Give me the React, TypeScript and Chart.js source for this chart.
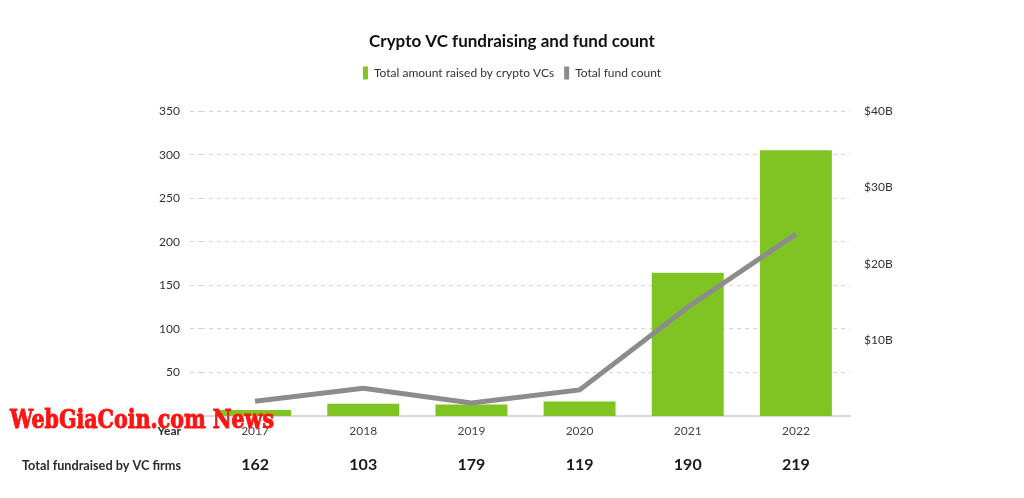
import React, { useEffect, useRef } from "react";
import { Chart, registerables } from "chart.js";

Chart.register(...registerables);

const years = ["2017", "2018", "2019", "2020", "2021", "2022"];
const amountRaisedB = [0.8, 1.6, 1.5, 1.9, 18.8, 34.9];
const fundCount = [17, 32, 15, 30, 125, 209];
const fundraisedByVcFirms = [162, 103, 179, 119, 190, 219];
const leftTicksMax = 350;
const rightTicksMax = 40;

const FONT = "Lato";
const GREEN = "#80c423";
const GRAY = "#8c8c8c";

const legendSpacer = {
  id: "legendSpacer",
  beforeInit(chart: any) {
    const legend = chart.legend;
    if (!legend) return;
    const orig = legend.fit;
    legend.fit = function () {
      orig.call(this);
      this.height += 22;
    };
  },
};

const tableRowsPlugin = {
  id: "tableRows",
  afterDraw(chart: any) {
    const ctx = chart.ctx;
    const xScale = chart.scales.x;
    ctx.save();
    ctx.fillStyle = "#2b2b2b";
    ctx.textBaseline = "middle";
    ctx.textAlign = "right";
    ctx.font = `bold 12px ${FONT}`;
    ctx.fillText("Year", 181, 431);
    ctx.font = `bold 12.7px ${FONT}`;
    ctx.fillText("Total fundraised by VC firms", 181, 466);
    ctx.textAlign = "center";
    ctx.font = `bold 16px ${FONT}`;
    ctx.fillStyle = "#1a1a1a";
    fundraisedByVcFirms.forEach((v, i) => {
      ctx.fillText(String(v), xScale.getPixelForValue(i), 465);
    });
    // watermark
    ctx.font = `bold 26px "DejaVu Serif"`;
    ctx.fillStyle = "#ff1414";
    ctx.strokeStyle = "#ff1414";
    ctx.lineWidth = 1;
    ctx.textAlign = "left";
    ctx.textBaseline = "alphabetic";
    const text = "WebGiaCoin.com News";
    const w = ctx.measureText(text).width;
    ctx.translate(10, 428);
    ctx.scale(264 / w, 1);
    ctx.fillText(text, 0, 0);
    ctx.strokeText(text, 0, 0);
    ctx.restore();
  },
};

export default function App() {
  const ref = useRef<HTMLCanvasElement>(null);
  useEffect(() => {
    if (!ref.current) return;
    const chart = new Chart(ref.current, {
      type: "bar",
      data: {
        labels: years,
        datasets: [
          {
            type: "bar",
            label: "Total amount raised by crypto VCs",
            data: amountRaisedB,
            backgroundColor: GREEN,
            borderWidth: 0,
            yAxisID: "y1",
            barPercentage: 0.665,
            categoryPercentage: 1,
            order: 1,
          },
          {
            type: "line",
            label: "Total fund count",
            data: fundCount,
            borderColor: GRAY,
            backgroundColor: GRAY,
            borderWidth: 5,
            pointRadius: 0,
            tension: 0,
            yAxisID: "y",
            order: 0,
          } as any,
        ],
      },
      options: {
        responsive: false,
        animation: false,
        layout: { padding: { left: 0, right: 0, top: 0, bottom: 0 } },
        plugins: {
          title: {
            display: true,
            text: "Crypto VC fundraising and fund count",
            color: "#111",
            font: { family: FONT, size: 17, weight: "bold" },
            padding: { top: 31, bottom: 5 },
          },
          legend: {
            display: true,
            labels: {
              boxWidth: 5,
              boxHeight: 13,
              padding: 10,
              color: "#333",
              font: { family: FONT, size: 12 },
              sort: (a: any, b: any) => a.datasetIndex - b.datasetIndex,
              generateLabels: (chart: any) => {
                const items = Chart.defaults.plugins.legend.labels.generateLabels(chart);
                return items.map((it: any) => ({ ...it, lineWidth: 0, strokeStyle: "transparent" }));
              },
            },
          },
          tooltip: { enabled: false },
        },
        scales: {
          x: {
            grid: { display: false, drawTicks: false },
            border: { display: true, color: "#d9d9d9", width: 2 },
            ticks: { color: "#444", font: { family: FONT, size: 12 }, padding: 8 },
            afterFit: (s: any) => {
              s.height = 82;
            },
          },
          y: {
            position: "left",
            min: 0,
            max: leftTicksMax,
            ticks: {
              stepSize: 50,
              color: "#333",
              font: { family: FONT, size: 12 },
              padding: 10,
              callback: (v: any) => (v === 0 ? "" : String(v)),
            },
            grid: {
              color: (c: any) => (c.tick && c.tick.value === 0 ? "transparent" : "#d4d4d4"),
              lineWidth: 1,
              drawTicks: true,
              tickLength: 11,
              tickBorderDash: [4, 4],
            },
            border: { display: false, dash: [4, 4] },
            afterFit: (s: any) => {
              s.width = 201;
            },
          },
          y1: {
            position: "right",
            min: 0,
            max: rightTicksMax,
            ticks: {
              stepSize: 10,
              color: "#333",
              font: { family: FONT, size: 12 },
              padding: 14,
              callback: (v: any) => (v === 0 ? "" : `$${v}B`),
            },
            grid: { display: false, drawTicks: false },
            border: { display: false },
            afterFit: (s: any) => {
              s.width = 174;
            },
          },
        },
      },
      plugins: [legendSpacer, tableRowsPlugin],
    });
    return () => chart.destroy();
  }, []);
  return (
    <div style={{ position: "absolute", left: 0, top: 0, width: 1024, height: 498, background: "#fff" }}>
      <canvas ref={ref} width={1024} height={498} />
    </div>
  );
}
